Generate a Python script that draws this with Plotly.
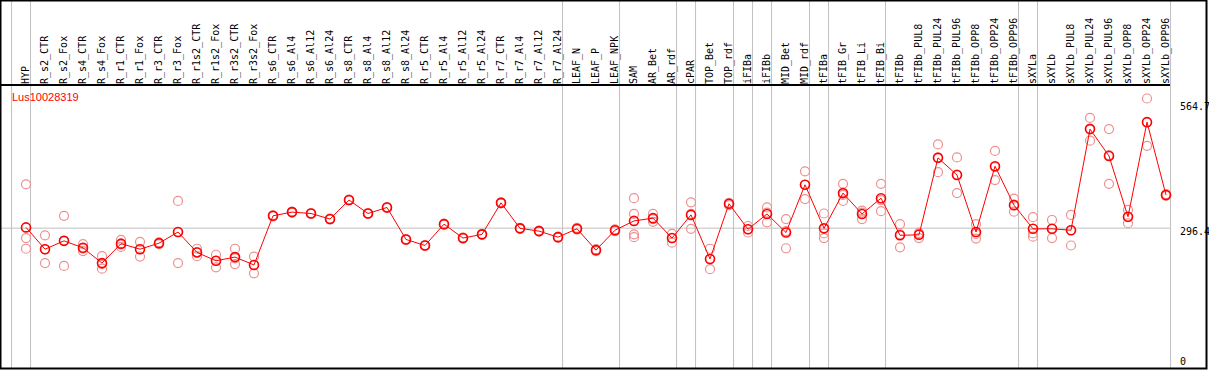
import plotly.graph_objects as go

categories = ["HYP", "R_s2_CTR", "R_s2_Fox", "R_s4_CTR", "R_s4_Fox", "R_r1_CTR", "R_r1_Fox",
              "R_r3_CTR", "R_r3_Fox", "R_r1s2_CTR", "R_r1s2_Fox", "R_r3s2_CTR", "R_r3s2_Fox",
              "R_s6_CTR", "R_s6_Al4", "R_s6_Al12", "R_s6_Al24", "R_s8_CTR", "R_s8_Al4",
              "R_s8_Al12", "R_s8_Al24", "R_r5_CTR", "R_r5_Al4", "R_r5_Al12", "R_r5_Al24",
              "R_r7_CTR", "R_r7_Al4", "R_r7_Al12", "R_r7_Al24", "LEAF_N", "LEAF_P", "LEAF_NPK",
              "SAM", "AR_Bet", "AR_rdf", "cPAR", "TOP_Bet", "TOP_rdf", "iFIBa", "iFIBb",
              "MID_Bet", "MID_rdf", "tFIBa", "tFIB_Gr", "tFIB_Li", "tFIB_Bi", "tFIBb",
              "tFIBb_PUL8", "tFIBb_PUL24", "tFIBb_PUL96", "tFIBb_OPP8", "tFIBb_OPP24",
              "tFIBb_OPP96", "sXYLa", "sXYLb", "sXYLb_PUL8", "sXYLb_PUL24", "sXYLb_PUL96",
              "sXYLb_OPP8", "sXYLb_OPP24", "sXYLb_OPP96"]

mean_values = [298, 251, 269, 254, 221, 263, 251, 264, 288, 244, 226, 234, 217,
               323, 331, 328, 316, 357, 328, 341, 272, 259, 305, 275, 283,
               351, 296, 290, 277, 295, 249, 292, 312, 318, 275, 325, 230, 349,
               294, 327, 287, 390, 296, 372, 327, 361, 281, 282, 448, 411, 288,
               430, 346, 295, 295, 292, 510, 452, 321, 525, 368]

rep_a = [391, 281, 323, 262, 236, 271, 267, 266, 355, 252, 239, 252, 235,
         324, 332, 329, 317, 358, 329, 342, 273, 260, 306, 276, 284,
         352, 297, 291, 278, 297, 251, 294, 361, 327, 284, 352, 252, 351,
         301, 341, 316, 419, 328, 392, 334, 392, 305, 284, 477, 449, 305,
         463, 360, 320, 314, 325, 534, 510, 336, 576, 370]
rep_b = [252, 221, 215, 247, 209, 256, 235, 262, 221, 236, 212, 219, 199,
         322, 330, 327, 315, 356, 327, 340, 271, 258, 304, 274, 282,
         350, 295, 289, 276, 293, 247, 290, 277, 310, 265, 295, 208, 346,
         287, 309, 253, 359, 275, 355, 316, 333, 255, 275, 417, 372, 274,
         400, 332, 278, 275, 259, 485, 392, 307, 474, 366]
rep_c = [275, 251, 269, 252, 219, 261, 251, 264, 288, 245, 226, 231, 217,
         323, 331, 328, 316, 357, 328, 341, 272, 259, 305, 275, 283,
         351, 296, 290, 277, 295, 249, 292, 327, 316, 275, 327, 230, 349,
         294, 330, 290, 390, 285, 368, 330, 357, 283, 286, 449, 412, 284,
         428, 347, 285, 295, 292, 511, 454, 320, 525, 368]
rep_d = [None] * 32 + [283] + [None] * 28

right_tick_values = [564.7, 296.4, 0]
right_tick_text = ["564.7", "296.4", "0"]
group_ends = [-1, 0, 28, 31, 34, 35, 37, 38, 39, 41, 42, 45, 52, 53, 60]
gene_name = "Lus10028319"

W, H = 1209, 370
ML, MR, MT, MB = 1, 39, 85, 2
pw = W - ML - MR
ph = H - MT - MB
step = 19.0
x0_idx = -25 / step
x1_idx = (pw - 25) / step
xr = [x0_idx, x1_idx]
yr = [-5.2, 605.1]

def xp(v):
    return (v - xr[0]) / (xr[1] - xr[0])

x_idx = list(range(len(categories)))
fig = go.Figure()

rep_color = "#ee9090"
for reps in (rep_a, rep_b, rep_c, rep_d):
    fig.add_trace(go.Scatter(
        x=x_idx, y=reps, mode="markers",
        marker=dict(symbol="circle-open", size=9, color=rep_color,
                    line=dict(color=rep_color, width=1.2)),
        hoverinfo="skip", cliponaxis=False))

fig.add_trace(go.Scatter(
    x=x_idx, y=mean_values, mode="lines+markers",
    line=dict(color="#ff0000", width=1),
    marker=dict(symbol="circle-open", size=9, color="#ff0000",
                line=dict(color="#ff0000", width=1.6)),
    hoverinfo="skip", cliponaxis=False))

shapes = []
top_paper = 1 + (MT - 1) / ph
shapes.append(dict(type="line", xref="paper", yref="y", x0=-1 / pw, x1=1,
                   y0=right_tick_values[1], y1=right_tick_values[1],
                   line=dict(color="#c0c0c0", width=1), layer="below"))
for g in group_ends:
    xv = xp(g + 0.24)
    shapes.append(dict(type="line", xref="paper", yref="paper", x0=xv, x1=xv,
                       y0=0, y1=top_paper + 1 / ph,
                       line=dict(color="#c0c0c0", width=1), layer="below"))
shapes.append(dict(type="line", xref="paper", yref="paper", x0=-1 / pw, x1=1,
                   y0=1, y1=1, line=dict(color="black", width=2)))
shapes.append(dict(type="rect", xref="paper", yref="paper",
                   x0=-0.5 / pw, x1=(W - 2.5 - ML) / pw,
                   y0=-0.5 / ph, y1=top_paper + 0.5 / ph,
                   line=dict(color="black", width=2), fillcolor="rgba(0,0,0,0)"))

annotations = []
annotations.append(dict(text=gene_name, xref="paper", yref="paper",
                        x=(10 - ML) / pw, y=(MT + ph - 97) / ph,
                        xanchor="left", yanchor="middle", showarrow=False,
                        font=dict(family="Liberation Sans", size=11, color="#ff0000")))
yshifts = [-3, -3.5, 3.6]
for v, t, s in zip(right_tick_values, right_tick_text, yshifts):
    annotations.append(dict(text=t, xref="paper", yref="y",
                            x=(1178 - ML) / pw, y=v, yshift=s,
                            xanchor="left", yanchor="middle", showarrow=False,
                            font=dict(family="DejaVu Sans Mono", size=10, color="black")))

fig.update_layout(
    width=W, height=H,
    margin=dict(l=ML, r=MR, t=MT, b=MB, pad=0),
    paper_bgcolor="white", plot_bgcolor="white",
    showlegend=False, hovermode=False,
    shapes=shapes, annotations=annotations,
    xaxis=dict(range=xr, side="top", tickmode="array", tickvals=x_idx,
               ticktext=categories, tickangle=-90, ticks="",
               showgrid=False, zeroline=False, showline=False,
               tickfont=dict(family="DejaVu Sans Mono", size=10, color="black")),
    yaxis=dict(range=yr, showticklabels=False, showgrid=False,
               zeroline=False, showline=False, ticks=""),
)

fig.write_html("out.html", config={"displayModeBar": False},
               post_script="document.body.style.margin='0';document.body.style.overflow='hidden';")
